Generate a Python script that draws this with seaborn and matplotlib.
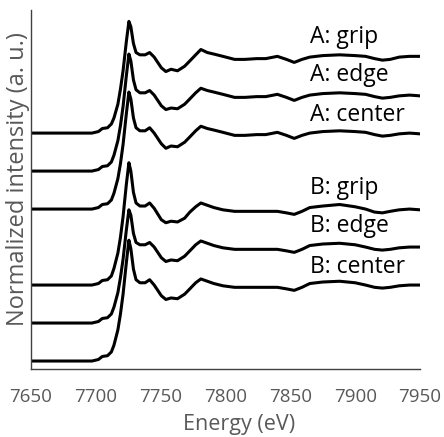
import numpy as np
import pandas as pd
import matplotlib
matplotlib.use("Agg")
import matplotlib.pyplot as plt
import seaborn as sns

sns.set_theme(style="white")
plt.rcParams["font.family"] = ["Open Sans", "DejaVu Sans"]

# Shared energy grid (eV)
energy = [7650, 7680, 7697, 7702, 7705, 7709, 7712, 7714, 7717, 7719, 7721,
          7723.5, 7725.5, 7727, 7729, 7731, 7734, 7738, 7741.5, 7745, 7750.5,
          7754, 7758, 7763, 7768.5, 7772.5, 7777, 7781, 7786, 7791, 7798, 7807,
          7815, 7824, 7831, 7840, 7847, 7853, 7859, 7865, 7875, 7888, 7900,
          7908, 7915, 7921, 7927, 7934, 7942, 7950]

a_grip = [0.00, 0.00, 0.00, 0.02, 0.06, 0.07, 0.12, 0.20, 0.38, 0.58, 0.82,
          1.20, 1.47, 1.40, 1.18, 1.06, 1.03, 1.03, 1.06, 1.00, 0.86,
          0.81, 0.84, 0.82, 0.88, 0.95, 1.03, 1.10, 1.06, 1.04, 1.01, 0.97,
          0.97, 0.98, 0.98, 1.01, 0.97, 0.93, 0.97, 1.00, 1.02, 1.03, 1.02,
          1.01, 0.98, 0.96, 0.97, 1.00, 1.01, 1.01]
a_edge = [0.00, 0.00, 0.00, 0.02, 0.06, 0.07, 0.12, 0.21, 0.40, 0.60, 0.85,
          1.25, 1.54, 1.45, 1.20, 1.07, 1.03, 1.03, 1.06, 1.00, 0.86,
          0.81, 0.83, 0.82, 0.88, 0.95, 1.03, 1.09, 1.06, 1.04, 1.01, 0.97,
          0.97, 0.98, 0.98, 1.01, 0.97, 0.93, 0.97, 1.00, 1.02, 1.03, 1.02,
          1.01, 0.98, 0.96, 0.97, 0.99, 1.00, 0.99]
a_center = [0.00, 0.00, 0.00, 0.02, 0.06, 0.07, 0.12, 0.21, 0.40, 0.60, 0.85,
            1.25, 1.54, 1.45, 1.20, 1.07, 1.03, 1.03, 1.07, 1.00, 0.86,
            0.80, 0.83, 0.82, 0.88, 0.95, 1.03, 1.09, 1.06, 1.04, 1.01, 0.97,
            0.97, 0.98, 0.98, 1.01, 0.97, 0.93, 0.97, 1.00, 1.02, 1.03, 1.02,
            1.01, 0.98, 0.96, 0.97, 0.99, 1.00, 0.99]
b_grip = [0.00, 0.00, 0.00, 0.02, 0.06, 0.07, 0.12, 0.22, 0.42, 0.63, 0.90,
          1.32, 1.61, 1.50, 1.22, 1.08, 1.04, 1.04, 1.08, 1.01, 0.86,
          0.82, 0.84, 0.83, 0.88, 0.96, 1.03, 1.08, 1.05, 1.02, 0.99, 0.97,
          0.97, 0.97, 0.97, 0.97, 0.95, 0.93, 0.97, 1.02, 1.04, 1.06, 1.03,
          1.00, 0.96, 0.95, 0.97, 0.99, 1.00, 0.99]
b_edge = [0.00, 0.00, 0.00, 0.02, 0.06, 0.07, 0.12, 0.21, 0.40, 0.60, 0.84,
          1.22, 1.49, 1.42, 1.18, 1.06, 1.03, 1.03, 1.06, 1.00, 0.86,
          0.81, 0.83, 0.82, 0.88, 0.95, 1.03, 1.08, 1.05, 1.02, 0.99, 0.97,
          0.97, 0.97, 0.97, 0.97, 0.95, 0.93, 0.97, 1.02, 1.04, 1.05, 1.03,
          1.00, 0.97, 0.96, 0.97, 0.99, 1.00, 1.00]
b_center = [0.00, 0.00, 0.00, 0.02, 0.06, 0.07, 0.12, 0.21, 0.41, 0.62, 0.88,
            1.29, 1.59, 1.48, 1.21, 1.07, 1.03, 1.03, 1.07, 1.00, 0.86,
            0.81, 0.83, 0.82, 0.88, 0.95, 1.03, 1.08, 1.05, 1.02, 0.99, 0.97,
            0.97, 0.97, 0.97, 0.97, 0.95, 0.93, 0.97, 1.02, 1.04, 1.05, 1.03,
            1.00, 0.97, 0.96, 0.97, 0.99, 1.00, 1.00]

labels = ["A: grip", "A: edge", "A: center", "B: grip", "B: edge", "B: center"]
series = [a_grip, a_edge, a_center, b_grip, b_edge, b_center]
offsets = [3.0, 2.5, 2.0, 1.0, 0.5, 0.0]
label_y = [4.26, 3.76, 3.24, 2.28, 1.78, 1.24]
label_x = 7865

xticks = [7650, 7700, 7750, 7800, 7850, 7900, 7950]

rows = []
for name, vals, off in zip(labels, series, offsets):
    for e, v in zip(energy, vals):
        rows.append({"Energy": e, "Intensity": v + off, "Sample": name})
df = pd.DataFrame(rows)

fig = plt.figure(figsize=(4.44, 4.37), dpi=100)
ax = fig.add_axes([31 / 444, 1 - 369 / 437, 389 / 444, 359 / 437])

sns.lineplot(data=df, x="Energy", y="Intensity", units="Sample",
             estimator=None, color="black", linewidth=2.2, sort=False,
             ax=ax, legend=False)

for name, ly in zip(labels, label_y):
    ax.text(label_x, ly, name, fontsize=16.5, color="black",
            ha="left", va="center")

ax.set_xlim(7650, 7950)
ax.set_ylim(-0.105, 4.62)
ax.set_xticks(xticks)
ax.set_xticklabels([str(t) for t in xticks])
ax.set_yticks([])
ax.tick_params(axis="x", length=0, pad=14, labelsize=13.5, labelcolor="#595959")
for s in ["top", "right"]:
    ax.spines[s].set_visible(False)
for s in ["left", "bottom"]:
    ax.spines[s].set_color("#404040")
    ax.spines[s].set_linewidth(1.0)

ax.set_xlabel("Energy (eV)", fontsize=15.5, color="#595959")
ax.xaxis.set_label_coords(0.535, -0.125)
ax.set_ylabel("Normalized intensity (a. u.)", fontsize=17, color="#595959")
ax.yaxis.set_label_coords(-0.003, 0.53)

fig.savefig("out.png", dpi=100)
